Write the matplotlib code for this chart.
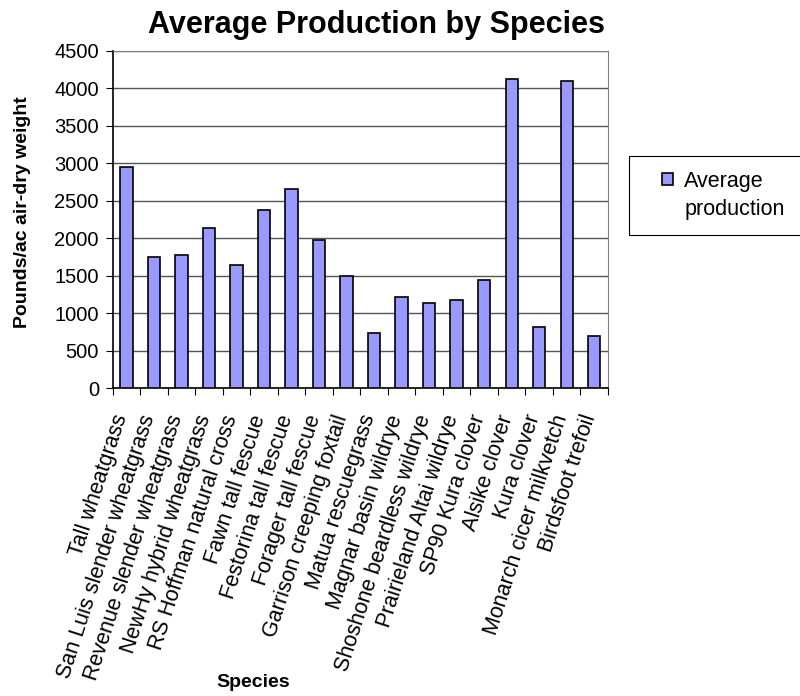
import matplotlib
matplotlib.use("Agg")
import matplotlib.pyplot as plt
from matplotlib.patches import Rectangle
from matplotlib.transforms import ScaledTranslation
import numpy as np

plt.rcParams['font.family'] = ['Liberation Sans', 'DejaVu Sans']

# Species and their average production (lb/ac air-dry weight)
SPECIES = [
    'Tall wheatgrass', 'San Luis slender wheatgrass', 'Revenue slender wheatgrass',
    'NewHy hybrid wheatgrass', 'RS Hoffman natural cross', 'Fawn tall fescue',
    'Festorina tall fescue', 'Forager tall fescue', 'Garrison creeping foxtail',
    'Matua rescuegrass', 'Magnar basin wildrye', 'Shoshone beardless wildrye',
    'Prairieland Altai wildrye', 'SP90 Kura clover', 'Alsike clover',
    'Kura clover', 'Monarch cicer milkvetch', 'Birdsfoot trefoil',
]
PRODUCTION = [2950, 1755, 1780, 2130, 1645, 2370, 2660, 1970, 1490,
              740, 1220, 1140, 1170, 1435, 4125, 820, 4100, 690]
Y_TICKS = list(range(0, 4501, 500))

fig = plt.figure(figsize=(8, 6.96), dpi=100)
ax = fig.add_axes([0.141, 0.4425, 0.619, 0.4845])

x = np.arange(len(SPECIES))
ax.bar(x, PRODUCTION, width=0.45, color='#9999FF', edgecolor='black',
       linewidth=1.2, label='Average', zorder=3)

ax.set_xlim(-0.5, len(SPECIES) - 0.5)
ax.set_ylim(0, 4500)
ax.set_yticks(Y_TICKS)
ax.tick_params(axis='y', labelsize=14.5, length=5, direction='out', pad=5)
ax.yaxis.grid(True, color='#555555', linewidth=1, zorder=0)

# category ticks between bars, labels on the bars
ax.set_xticks(np.arange(-0.5, len(SPECIES)), minor=False)
ax.set_xticklabels([])
ax.set_xticks(x, minor=True)
ax.set_xticklabels(SPECIES, minor=True, rotation=72, ha='right', va='bottom',
                   rotation_mode='anchor', fontsize=15.5)
ax.tick_params(axis='x', which='major', length=5, direction='out')
ax.tick_params(axis='x', which='minor', length=0, pad=22)
shift = ScaledTranslation(4 / 72, 0, fig.dpi_scale_trans)
for lab in ax.get_xticklabels(minor=True):
    lab.set_transform(lab.get_transform() + shift)

for side in ['top', 'right']:
    ax.spines[side].set_color('#808080')
for side in ['left', 'bottom']:
    ax.spines[side].set_color('black')
    ax.spines[side].set_linewidth(1.2)

fig.text(0.47, 0.952, 'Average Production by Species', fontsize=22,
         fontweight='bold', ha='center', va='baseline')
fig.text(0.028, 0.695, 'Pounds/ac air-dry weight', fontsize=14, fontweight='bold',
         rotation=90, ha='center', va='center')
fig.text(0.317, 0.019, 'Species', fontsize=14, fontweight='bold', ha='center',
         va='center')

# legend box runs off the right edge of the figure
fig.patches.append(Rectangle((0.786, 1 - 235 / 696), 0.25, 79 / 696,
                             transform=fig.transFigure, facecolor='white',
                             edgecolor='black', linewidth=0.8))
leg = fig.legend(loc='upper left', bbox_to_anchor=(0.828, 0.755), fontsize=15.5,
                 frameon=False, handlelength=0.5, handleheight=0.5,
                 handletextpad=0.5, borderpad=0, borderaxespad=0)
fig.text(0.856, 1 - 215 / 696, 'production', fontsize=15.5, ha='left',
         va='baseline')

fig.savefig('out.png', dpi=100)
